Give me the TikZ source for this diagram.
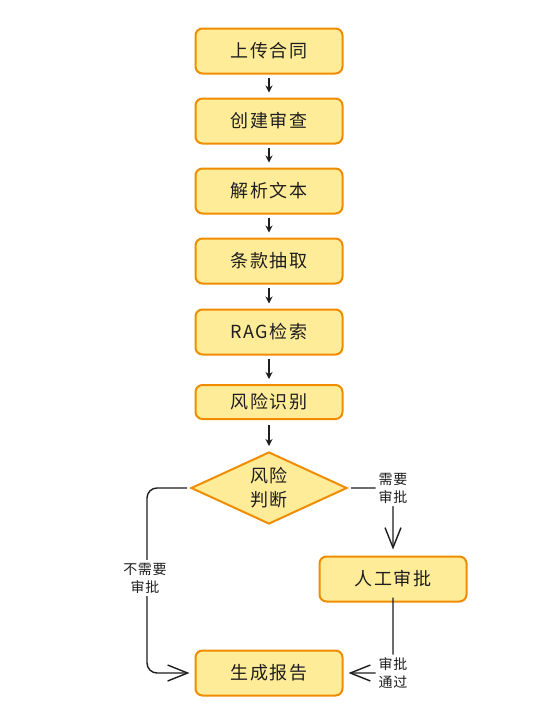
\documentclass[tikz,border=0pt]{standalone}
\usepackage{fontspec}
\setmainfont{Noto Sans CJK SC}
\usetikzlibrary{shapes.geometric,arrows.meta}
\definecolor{boxfill}{HTML}{FFEC99}
\definecolor{boxline}{HTML}{F08C00}
\definecolor{ink}{HTML}{1E1E1E}
\tikzset{
  stepbox/.style={draw=boxline, fill=boxfill, line width=2pt, rounded corners=7pt,
    minimum width=147pt, minimum height=45pt,
    font=\fontsize{18}{20}\selectfont\addfontfeature{LetterSpace=8}, text=ink},
  decide/.style={draw=boxline, fill=boxfill, line width=2pt, diamond, aspect=2.2,
    minimum width=156pt, minimum height=72pt, inner sep=0pt, align=center,
    font=\fontsize{18}{24}\selectfont\addfontfeature{LetterSpace=8}, text=ink},
  flow/.style={draw=ink, line width=1.4pt, -{Stealth[length=7pt,width=7pt]}},
  branch/.style={draw=ink, line width=1.4pt, rounded corners=10pt, -{Straight Barb[length=20pt,width=16pt,line width=1.4pt]}},
  lbl/.style={fill=white, inner sep=3pt, align=center,
    font=\fontsize{14}{18}\selectfont\addfontfeature{LetterSpace=4}, text=ink}
}
\begin{document}
\begin{tikzpicture}[x=1pt,y=-1pt]
\useasboundingbox[fill=white] (0,0) rectangle (547,723);
\node[stepbox] (a) at (269,51) {上传合同};
\node[stepbox] (b) at (269,121) {创建审查};
\node[stepbox] (c) at (269,191) {解析文本};
\node[stepbox] (d) at (269,261) {条款抽取};
\node[stepbox] (e) at (269,332) {RAG检索};
\node[stepbox, minimum height=34pt] (f) at (269,402) {风险识别};
\node[decide] (g) at (269,488) {风险\\判断};
\node[stepbox] (h) at (393,579) {人工审批};
\node[stepbox] (i) at (269,673) {生成报告};

\draw[flow] ([yshift=-3pt]a.south) -- ([yshift=5pt]b.north);
\draw[flow] ([yshift=-3pt]b.south) -- ([yshift=5pt]c.north);
\draw[flow] ([yshift=-3pt]c.south) -- ([yshift=5pt]d.north);
\draw[flow] ([yshift=-3pt]d.south) -- ([yshift=5pt]e.north);
\draw[flow] ([yshift=-3pt]e.south) -- ([yshift=5pt]f.north);
\draw[flow] ([yshift=-5pt]f.south) -- ([yshift=5pt]g.north);

\draw[branch] ([xshift=3pt]g.east) -| ([yshift=6pt]h.north)
  node[lbl, pos=0.5] {需要\\审批};
\draw[branch] ([xshift=-3pt]g.west) -| (147,580) |- ([xshift=-5pt]i.west);
\node[lbl] (l1) at (145,578) {不需要\\审批};
\draw[branch] ([yshift=5pt]h.south) |- ([xshift=5pt]i.east)
  node[lbl, pos=0.5] {审批\\通过};
\end{tikzpicture}
\end{document}
